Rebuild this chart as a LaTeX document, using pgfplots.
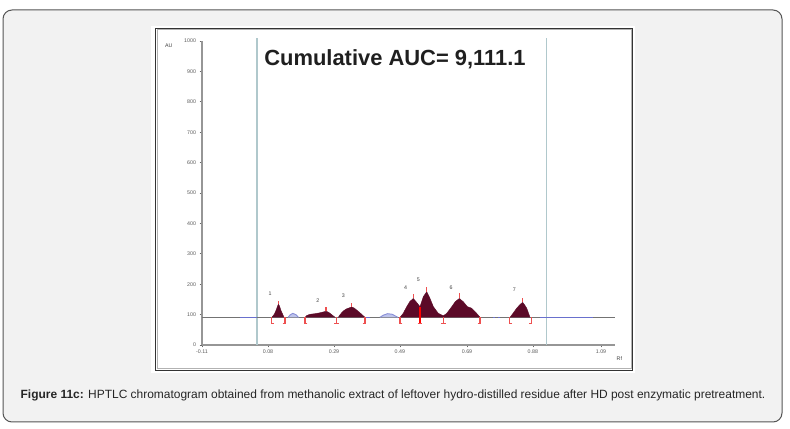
\documentclass[border=0pt]{standalone}
\usepackage{pgfplots}
\pgfplotsset{compat=1.18}
\usepackage{fontspec}
\setmainfont{Liberation Sans}
\definecolor{peak}{RGB}{92,10,40}
\definecolor{bracketred}{RGB}{238,80,80}
\definecolor{sig}{RGB}{105,112,205}
\definecolor{sigl}{RGB}{190,196,236}
\definecolor{vline}{RGB}{176,200,204}
\definecolor{axg}{RGB}{150,150,150}
\definecolor{framebg}{RGB}{242,242,242}
\definecolor{framed}{RGB}{85,85,85}
\begin{document}
\begin{tikzpicture}
\useasboundingbox (0,0) rectangle (790bp,429bp);
\fill[white] (0,0) rectangle (790bp,429bp);
\draw[framed, fill=framebg, line width=1bp, rounded corners=9bp] (3bp,7bp) rectangle (782bp,419bp);
\fill[white] (151bp,56bp) rectangle (635bp,402.5bp);
\draw[gray!60, line width=1bp] (157bp,60bp) rectangle (631bp,399bp);
\draw[black!80, line width=1.1bp] (155.5bp,58.5bp) rectangle (632.5bp,400.5bp);
\node[font=\bfseries\fontsize{22}{26}\selectfont, text=black!88, anchor=center] at (395bp,370bp) {Cumulative AUC= 9,111.1};
\node[font=\fontsize{12}{14}\selectfont, text=black!85, anchor=center] at (393bp,34bp) {\textbf{Figure 11c:} HPTLC chromatogram obtained from methanolic extract of leftover hydro-distilled residue after HD post enzymatic pretreatment.};
\begin{axis}[
  at={(202bp,84bp)}, anchor=south west,
  scale only axis, width=413bp, height=304bp,
  xmin=-0.11, xmax=1.132, ymin=0, ymax=1000,
  axis lines=left,
  axis line style={axg, line width=1.3bp, -},
  clip=false,
  ytick={0,100,...,1000},
  xtick={-0.11,0.0885,0.287,0.485,0.687,0.885,1.09},
  xticklabels={-0.11,0.08,0.29,0.49,0.69,0.88,1.09},
  tick align=outside,
  major tick length=2.5bp,
  tick style={black!60, line width=0.6bp},
  ticklabel style={font=\fontsize{5.3}{6}\selectfont, text=black!65},
  /pgf/number format/assume math mode=true,
  yticklabel style={/pgf/number format/.cd, fixed, precision=0, 1000 sep={}},
  xticklabel style={yshift=1bp},
  every axis plot/.append style={no markers},
  br/.style={color=bracketred, line width=1.4bp, no markers},
]
% vertical limit lines
\addplot[vline, line width=1.3bp] coordinates {(0.055,0) (0.055,1010)};
\addplot[vline, line width=1.3bp] coordinates {(0.925,0) (0.925,1010)};
% baseline
\addplot[black!55, line width=0.9bp] coordinates {(-0.11,91) (1.132,91)};
% signal (blue parts)
\addplot[sig, line width=1.2bp] coordinates {(0.004,91) (0.055,91)};
\addplot[sig, line width=1.2bp] coordinates {(0.906,91) (1.066,91)};
\addplot[sig!80, line width=0.9bp, fill=sigl] coordinates {(0.149,91) (0.155,99) (0.163,104) (0.172,100) (0.180,91)};
\addplot[sig, line width=1bp] coordinates {(0.382,91) (0.395,91)};
\addplot[sig!80, line width=0.9bp, fill=sigl] coordinates {(0.425,91) (0.435,98) (0.448,103) (0.462,101) (0.479,91)};
\addplot[sig, line width=1bp] coordinates {(0.765,91) (0.772,91)};
\addplot[sig, line width=1bp] coordinates {(0.780,91) (0.787,91)};
% peaks
\addplot[peak, fill=peak, line width=0.4bp] coordinates {(0.100,91) (0.108,102) (0.114,118) (0.118,130) (0.120,134) (0.123,128) (0.128,112) (0.133,100) (0.137,91)};
\addplot[peak, fill=peak, line width=0.4bp] coordinates {(0.200,91) (0.205,97) (0.215,101) (0.230,103) (0.245,106) (0.256,109) (0.263,111) (0.270,108) (0.280,100) (0.290,91)};
\addplot[peak, fill=peak, line width=0.4bp] coordinates {(0.300,91) (0.306,101) (0.315,112) (0.325,119) (0.335,123) (0.340,125) (0.347,122) (0.355,115) (0.365,106) (0.374,97) (0.380,91)};
\addplot[peak, fill=peak, line width=0.4bp] coordinates {(0.4855,91) (0.495,104) (0.5057,126) (0.515,143) (0.5255,153) (0.5377,137) (0.5456,126) (0.5556,159) (0.5657,175) (0.5757,153) (0.5857,126) (0.6007,104) (0.6157,96) (0.6259,104) (0.641,126) (0.652,143) (0.664,153) (0.676,142) (0.688,126) (0.701,121) (0.716,104) (0.726,91)};
\addplot[peak, fill=peak, line width=0.4bp] coordinates {(0.8163,91) (0.8265,106) (0.8365,121) (0.8470,134) (0.8545,140) (0.8600,132) (0.8665,121) (0.8765,91)};
% separator between peaks 4 and 5
\addplot[color=red, line width=1.4bp] coordinates {(0.5456,72) (0.5456,126)};
% boundary brackets
\addplot[br] coordinates {(0.1066,71) (0.0996,71) (0.0996,91)};
\addplot[br] coordinates {(0.1326,71) (0.1396,71) (0.1396,91)};
\addplot[br] coordinates {(0.2068,71) (0.1998,71) (0.1998,91)};
\addplot[br] coordinates {(0.2880,71) (0.3020,71)};
\addplot[br] coordinates {(0.2950,71) (0.2950,91)};
\addplot[br] coordinates {(0.3730,71) (0.3800,71) (0.3800,91)};
\addplot[br] coordinates {(0.4925,71) (0.4855,71) (0.4855,91)};
\addplot[br] coordinates {(0.5386,71) (0.5526,71)};
\addplot[br] coordinates {(0.6087,71) (0.6227,71)};
\addplot[br] coordinates {(0.6157,71) (0.6157,91)};
\addplot[br] coordinates {(0.7190,71) (0.7260,71) (0.7260,91)};
\addplot[br] coordinates {(0.8223,71) (0.8153,71) (0.8153,91)};
\addplot[br] coordinates {(0.8745,71) (0.8815,71) (0.8815,91)};
% apex ticks
\addplot[br] coordinates {(0.120,134) (0.120,146)};
\addplot[br] coordinates {(0.263,111) (0.263,124)};
\addplot[br] coordinates {(0.340,125) (0.340,138)};
\addplot[br] coordinates {(0.5255,153) (0.5255,168)};
\addplot[br] coordinates {(0.5657,175) (0.5657,192)};
\addplot[br] coordinates {(0.664,153) (0.664,170)};
\addplot[br] coordinates {(0.8545,140) (0.8545,156)};
% peak numbers
\begin{scope}[every node/.style={font=\fontsize{5.3}{6}\selectfont, text=black!75}]
\node at (axis cs:0.0945,168) {1};
\node at (axis cs:0.238,145) {2};
\node at (axis cs:0.315,162) {3};
\node at (axis cs:0.5026,188) {4};
\node at (axis cs:0.5405,214) {5};
\node at (axis cs:0.639,188) {6};
\node at (axis cs:0.829,181) {7};
\node at (axis cs:-0.21,985) {AU};
\node at (axis cs:1.145,-45) {Rf};
\end{scope}
\end{axis}
\end{tikzpicture}
\end{document}
